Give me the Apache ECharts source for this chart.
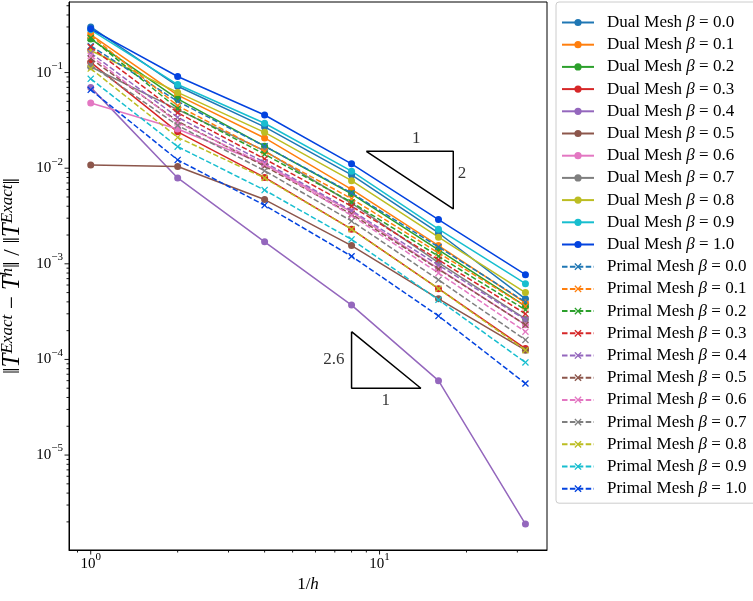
<!DOCTYPE html>
<html><head><meta charset="utf-8">
<script src="https://cdn.jsdelivr.net/npm/echarts@6/dist/echarts.min.js"></script>
<style>html,body{margin:0;padding:0;background:#fff}#c{width:753px;height:601px}</style>
</head><body><div id="c"></div>
<script>
// ---- data ----
const xValues = [1, 2, 4, 8, 16, 32];
const betaLabels = ['0.0','0.1','0.2','0.3','0.4','0.5','0.6','0.7','0.8','0.9','1.0'];

const dual_0_0 = [0.300, 0.072, 0.027, 0.0085, 0.0021, 4.3e-4];
const dual_0_1 = [0.250, 0.058, 0.0207, 0.0060, 0.00155, 3.9e-4];
const dual_0_2 = [0.225, 0.053, 0.0170, 0.0054, 0.0014, 3.6e-4];
const dual_0_3 = [0.128, 0.024, 0.0080, 0.0023, 0.00055, 1.3e-4];
const dual_0_4 = [0.070, 0.0079, 0.0017, 0.00037, 6.0e-5, 1.9e-6];
const dual_0_5 = [0.0108, 0.0104, 0.0047, 0.00155, 0.00043, 1.25e-4];
const dual_0_6 = [0.048, 0.0257, 0.011, 0.0035, 0.00089, 2.3e-4];
const dual_0_7 = [0.115, 0.041, 0.0152, 0.0043, 0.00103, 2.65e-4];
const dual_0_8 = [0.170, 0.062, 0.0237, 0.0074, 0.0019, 5.0e-4];
const dual_0_9 = [0.280, 0.075, 0.0295, 0.0093, 0.0023, 6.2e-4];
const dual_1_0 = [0.287, 0.091, 0.036, 0.0111, 0.0029, 7.7e-4];

const primal_0_0 = [0.190, 0.050, 0.0170, 0.0055, 0.0015, 4.0e-4];
const primal_0_1 = [0.245, 0.045, 0.0150, 0.0048, 0.0013, 3.6e-4];
const primal_0_2 = [0.230, 0.042, 0.0140, 0.0044, 0.0012, 3.3e-4];
const primal_0_3 = [0.185, 0.038, 0.0125, 0.0040, 0.0011, 3.0e-4];
const primal_0_4 = [0.160, 0.034, 0.0115, 0.0036, 0.00097, 2.6e-4];
const primal_0_5 = [0.140, 0.031, 0.0105, 0.0033, 0.00088, 2.3e-4];
const primal_0_6 = [0.150, 0.030, 0.0110, 0.0032, 0.00080, 1.95e-4];
const primal_0_7 = [0.120, 0.028, 0.0094, 0.0028, 0.00068, 1.6e-4];
const primal_0_8 = [0.110, 0.021, 0.0079, 0.0023, 0.00055, 1.25e-4];
const primal_0_9 = [0.086, 0.0168, 0.0059, 0.0018, 0.00042, 9.3e-5];
const primal_1_0 = [0.066, 0.0122, 0.0041, 0.0012, 0.000285, 5.6e-5];

// slope triangles (data coordinates) and their labels
const triangle2 = [[9, 0.015], [18, 0.015], [18, 0.00375], [9, 0.015]];
const triangle26 = [[8, 1.95e-4], [8, 5.0e-5], [13.9, 5.0e-5], [8, 1.95e-4]];
const triangleLabels = [[13.4, 0.0202, '1'], [19.3, 0.0087, '2'], [6.95, 9.9e-5, '2.6'], [10.5, 3.75e-5, '1']];

// axis ticks
const xMajorTicks = [1, 10];
const xMinorTicks = [0.9, 2, 3, 4, 5, 6, 7, 8, 9, 20, 30];
const yMajorTicks = [1e-5, 1e-4, 1e-3, 1e-2, 1e-1];
const yMinorMultipliers = [2, 3, 4, 5, 6, 7, 8, 9];
const yMinorDecades = [1e-6, 1e-5, 1e-4, 1e-3, 1e-2, 1e-1];

const colors = ['#1f77b4','#ff7f0e','#2ca02c','#d62728','#9467bd','#8c564b','#e377c2','#7f7f7f','#bcbd22','#17becf','#0343df'];

const dualData = [dual_0_0,dual_0_1,dual_0_2,dual_0_3,dual_0_4,dual_0_5,dual_0_6,dual_0_7,dual_0_8,dual_0_9,dual_1_0];
const primalData = [primal_0_0,primal_0_1,primal_0_2,primal_0_3,primal_0_4,primal_0_5,primal_0_6,primal_0_7,primal_0_8,primal_0_9,primal_1_0];

const X_MIN = 0.841, X_MAX = 38.0;
const Y_MIN = Math.pow(10, -5.993), Y_MAX = Math.pow(10, -0.262);
const FONT = 'Liberation Serif';
const xSymbol = 'path://M0,1.3 L1.3,0 L5,3.7 L8.7,0 L10,1.3 L6.3,5 L10,8.7 L8.7,10 L5,6.3 L1.3,10 L0,8.7 L3.7,5 Z';

function powLabel(v) {
  const e = Math.log10(v);
  const r = Math.round(e);
  if (Math.abs(e - r) > 1e-6) return '';
  return '{b|10}{e|' + String(r).replace('-', '−') + '}';
}
const powRich = {
  b: { fontSize: 15, fontFamily: FONT, color: '#000', lineHeight: 24 },
  e: { fontSize: 11, fontFamily: FONT, color: '#000', lineHeight: 13, verticalAlign: 'top' }
};

const series = [];
const legendNames = [];
dualData.forEach((arr, i) => {
  const name = 'Dual Mesh β = ' + betaLabels[i];
  legendNames.push(name);
  series.push({
    name, type: 'line', data: xValues.map((x, j) => [x, arr[j]]),
    symbol: 'circle', symbolSize: 7, showSymbol: true,
    lineStyle: { width: 1.5, color: colors[i] },
    itemStyle: { color: colors[i] },
    emphasis: { disabled: true }, z: 2
  });
});
primalData.forEach((arr, i) => {
  const name = 'Primal Mesh β = ' + betaLabels[i];
  legendNames.push(name);
  series.push({
    name, type: 'line', data: xValues.map((x, j) => [x, arr[j]]),
    symbol: xSymbol, symbolSize: 7, showSymbol: true,
    lineStyle: { width: 1.5, color: colors[i], type: [5.5, 2.4] },
    itemStyle: { color: colors[i] },
    emphasis: { disabled: true }, z: 3
  });
});

[triangle2, triangle26].forEach(tri => {
  series.push({
    type: 'line', data: tri, symbol: 'none', silent: true,
    lineStyle: { width: 1.5, color: '#000' }, z: 4
  });
});
series.push({
  type: 'scatter', data: triangleLabels, symbolSize: 0, silent: true,
  label: { show: true, position: 'inside', formatter: p => p.data[2], color: '#000', fontSize: 17, fontFamily: FONT },
  z: 5
});

// tick marks (major & minor), positioned through the axes
const tickData = [];
xMajorTicks.forEach(v => tickData.push([v, 1e-3, 0]));
xMinorTicks.forEach(v => tickData.push([v, 1e-3, 1]));
yMajorTicks.forEach(v => tickData.push([1, v, 2]));
yMinorDecades.forEach(d => yMinorMultipliers.forEach(m => {
  const v = d * m;
  if (v > Y_MIN && v < Y_MAX) tickData.push([1, v, 3]);
}));
series.push({
  type: 'custom', data: tickData, clip: false, silent: true, z: 6,
  renderItem: (params, api) => {
    const cs = params.coordSys;
    const kind = api.value(2);
    const pt = api.coord([api.value(0), api.value(1)]);
    let shape;
    if (kind < 2) {
      const len = kind === 0 ? 4.5 : 2.5;
      const bottom = cs.y + cs.height;
      shape = { x1: pt[0], y1: bottom, x2: pt[0], y2: bottom + len };
    } else {
      const len = kind === 2 ? 4.5 : 2.5;
      shape = { x1: cs.x, y1: pt[1], x2: cs.x - len, y2: pt[1] };
    }
    return { type: 'line', shape, style: { stroke: '#000', lineWidth: 0.9 } };
  }
});

const chart = echarts.init(document.getElementById('c'), null, { renderer: 'canvas' });
chart.setOption({
  animation: false,
  backgroundColor: '#fff',
  textStyle: { fontFamily: FONT, color: '#000' },
  grid: { left: 69, right: 206, top: 2, bottom: 51, show: true, borderColor: '#000', borderWidth: 1,
          containLabel: false, outerBoundsMode: 'none' },
  xAxis: {
    type: 'log', logBase: 10, min: X_MIN, max: X_MAX,
    axisLine: { show: true, lineStyle: { color: '#000', width: 1 } },
    axisTick: { show: false }, splitLine: { show: false },
    axisLabel: { formatter: powLabel, rich: powRich, showMinLabel: false, showMaxLabel: false, color: '#000', fontSize: 15, fontFamily: FONT, margin: 2 },
    name: '1/{it|h}', nameLocation: 'middle', nameGap: 23,
    nameTextStyle: { fontSize: 17, fontFamily: FONT, color: '#000', rich: { it: { fontStyle: 'italic', fontSize: 17, fontFamily: FONT } } }
  },
  yAxis: {
    type: 'log', logBase: 10, min: Y_MIN, max: Y_MAX,
    axisLine: { show: true, lineStyle: { color: '#000', width: 1 } },
    axisTick: { show: false }, splitLine: { show: false },
    axisLabel: { formatter: powLabel, rich: powRich, showMinLabel: false, showMaxLabel: false, color: '#000', fontSize: 15, fontFamily: FONT, margin: 6 },
    name: '{n|‖}{it|T}{sup|Exact}{n| − }{it|T}{sup|h}{n|‖ / ‖}{it|T}{sup|Exact}{n|‖}',
    nameLocation: 'middle', nameGap: 19,
    nameTextStyle: {
      fontSize: 23, fontFamily: FONT, color: '#000',
      rich: {
        it: { fontStyle: 'italic', fontSize: 25, fontFamily: FONT, lineHeight: 28 },
        sup: { fontStyle: 'italic', fontSize: 17, fontFamily: FONT, lineHeight: 16, verticalAlign: 'top' },
        n: { fontSize: 23, fontFamily: FONT, lineHeight: 28 }
      }
    }
  },
  legend: {
    data: legendNames, orient: 'vertical', left: 556, top: 2,
    padding: [12, 10, 6, 5], itemWidth: 32, itemHeight: 9, itemGap: 5.2,
    borderColor: '#cccccc', borderWidth: 1, borderRadius: 3, backgroundColor: '#fff',
    selectedMode: false,
    formatter: name => '{t|' + name.replace('β', '}{i|β}{t|') + '}',
    textStyle: {
      fontSize: 17, fontFamily: FONT, color: '#000', lineHeight: 17, padding: [0, 0, 0, 8],
      rich: {
        t: { fontSize: 17, fontFamily: FONT, lineHeight: 17 },
        i: { fontStyle: 'italic', fontSize: 17, fontFamily: FONT, lineHeight: 17 }
      }
    }
  },
  series
});
</script>
</body></html>
